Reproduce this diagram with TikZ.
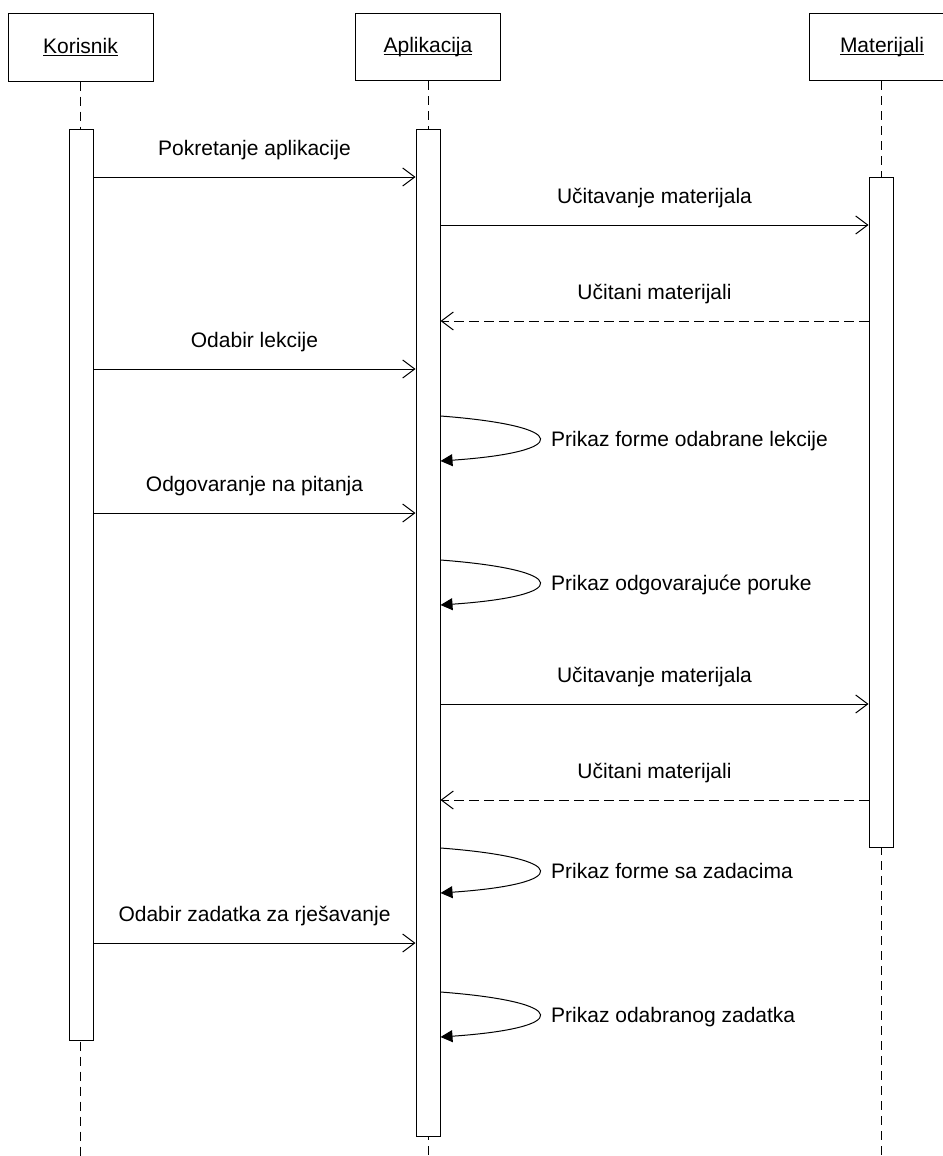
\documentclass[tikz,border=0pt]{standalone}
\usepackage{fontspec}
\setmainfont{Liberation Sans}
\usetikzlibrary{arrows.meta}
\newcommand{\ulname}[1]{\setbox0\hbox{#1}\rlap{\rule[-2.6pt]{\wd0}{1.2pt}}\box0}
\begin{document}
\begin{tikzpicture}[x=1pt,y=-1pt, font=\fontsize{21}{25}\selectfont,
  head/.style={draw, line width=1pt, minimum width=145pt, minimum height=67pt, inner sep=0pt},
  act/.style={draw, fill=white, line width=1pt, minimum width=24pt, inner sep=0pt},
  life/.style={line width=1pt, dash pattern=on 9pt off 6pt},
  msg/.style={line width=1pt, -{Straight Barb[length=12pt,width=18pt]}},
  ret/.style={msg, dash pattern=on 10pt off 5pt},
  selfmsg/.style={line width=1pt, -{Triangle[length=12pt,width=12pt]}},
  lbl/.style={anchor=base, inner sep=0pt, yshift=22pt},
  slbl/.style={anchor=base west, inner sep=0pt}
]
\useasboundingbox (0,0) rectangle (942,1156);
% headers
\node[head] (hK) at (80.5,47.5) {\ulname{Korisnik}};
\node[head] (hA) at (428,47) {\ulname{Aplikacija}};
\node[head] (hM) at (882,47) {\ulname{Materijali}};
% lifeline ends
\coordinate (eK) at (80.5,1160);
\coordinate (eA) at (428,1160);
\coordinate (eM) at (881,1160);
\draw[life] (hK.south) -- (hK.south |- eK);
\draw[life] (hA.south) -- (hA.south |- eA);
\draw[life] (hM.south -| eM) -- (eM);
% activations
\node[act, minimum height=911pt] (aK) at (81,584.5) {};
\node[act, minimum height=1007pt] (aA) at (428,632.5) {};
\node[act, minimum height=670pt] (aM) at (881,512) {};
% messages
\draw[msg] (aK.east |- 0,177) -- (aA.west |- 0,177) node[midway, lbl] {Pokretanje aplikacije};
\draw[msg] (aA.east |- 0,225) -- (aM.west |- 0,225) node[midway, lbl] {Učitavanje materijala};
\draw[ret] (aM.west |- 0,321) -- (aA.east |- 0,321) node[midway, lbl] {Učitani materijali};
\draw[msg] (aK.east |- 0,369) -- (aA.west |- 0,369) node[midway, lbl] {Odabir lekcije};
\draw[selfmsg] (aA.east |- 0,416) .. controls (572,426) and (572,452) .. (aA.east |- 0,461);
\node[slbl] (s1) at (551,446) {Prikaz forme odabrane lekcije};
\draw[msg] (aK.east |- 0,513) -- (aA.west |- 0,513) node[midway, lbl] {Odgovaranje na pitanja};
\draw[selfmsg] (aA.east |- 0,560) .. controls (572,570) and (572,596) .. (aA.east |- 0,605);
\node[slbl] (s2) at (551,590) {Prikaz odgovarajuće poruke};
\draw[msg] (aA.east |- 0,704) -- (aM.west |- 0,704) node[midway, lbl] {Učitavanje materijala};
\draw[ret] (aM.west |- 0,800) -- (aA.east |- 0,800) node[midway, lbl] {Učitani materijali};
\draw[selfmsg] (aA.east |- 0,848) .. controls (572,858) and (572,884) .. (aA.east |- 0,893);
\node[slbl] (s3) at (551,878) {Prikaz forme sa zadacima};
\draw[msg] (aK.east |- 0,943) -- (aA.west |- 0,943) node[midway, lbl] {Odabir zadatka za rješavanje};
\draw[selfmsg] (aA.east |- 0,992) .. controls (572,1002) and (572,1028) .. (aA.east |- 0,1037);
\node[slbl] (s4) at (551,1022) {Prikaz odabranog zadatka};
\end{tikzpicture}
\end{document}
